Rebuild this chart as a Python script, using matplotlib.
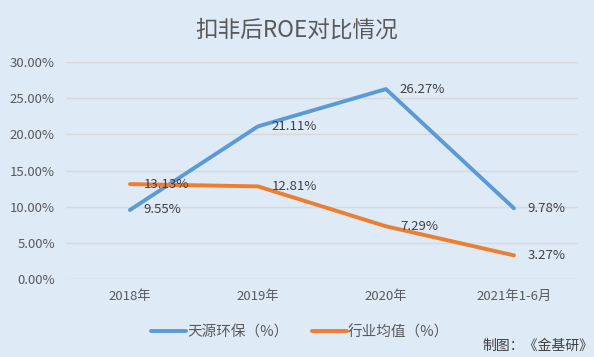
import matplotlib
matplotlib.use("Agg")
import matplotlib.pyplot as plt
from matplotlib.ticker import FuncFormatter

plt.rcParams['font.family'] = ['Noto Sans CJK SC', 'DejaVu Sans']

categories = ["2018年", "2019年", "2020年", "2021年1-6月"]
tianyuan = [9.55, 21.11, 26.27, 9.78]
industry = [13.13, 12.81, 7.29, 3.27]
series_names = ["天源环保（%）", "行业均值（%）"]

bg = "#deeaf6"
txt = "#595959"

fig = plt.figure(figsize=(5.94, 3.57), dpi=100, facecolor=bg)
ax = fig.add_axes([0.111, 0.2185, 0.862, 0.6075], facecolor=bg)

x = range(len(categories))
ax.plot(x, tianyuan, color="#5b9bd5", lw=2.8, solid_capstyle="round",
        label=series_names[0], zorder=3)
ax.plot(x, industry, color="#ed7d31", lw=2.8, solid_capstyle="round",
        label=series_names[1], zorder=3)

for vals in (tianyuan, industry):
    for i, v in enumerate(vals):
        ax.annotate("{:.2f}%".format(v), (i, v), xytext=(10, 0),
                    textcoords="offset points", va="center", ha="left",
                    fontsize=9.5, color="#404040", zorder=4)

ax.set_xlim(-0.5, 3.5)
ax.set_ylim(0, 30)
ax.set_yticks(range(0, 31, 5))
ax.yaxis.set_major_formatter(FuncFormatter(lambda v, p: "{:.2f}%".format(v)))
ax.set_xticks(list(x))
ax.set_xticklabels(categories)
ax.tick_params(length=0, labelsize=9.5, labelcolor=txt, pad=8)
ax.grid(axis="y", color="#d9d9d9", lw=1)
for s in ax.spines.values():
    s.set_visible(False)

fig.text(0.5, 0.915, "扣非后ROE对比情况", ha="center", va="center",
         fontsize=16.3, color=txt)

fig.legend(loc="center", bbox_to_anchor=(0.505, 0.07), ncol=2,
           frameon=False, fontsize=10.5, handlelength=2.4, handletextpad=0.1,
           columnspacing=1.6, labelcolor=txt)

fig.text(0.999, 0.03, "制图：《金基研》", ha="right", va="center",
         fontsize=10, color="#404040")

fig.savefig("out.png", dpi=100, facecolor=bg)
